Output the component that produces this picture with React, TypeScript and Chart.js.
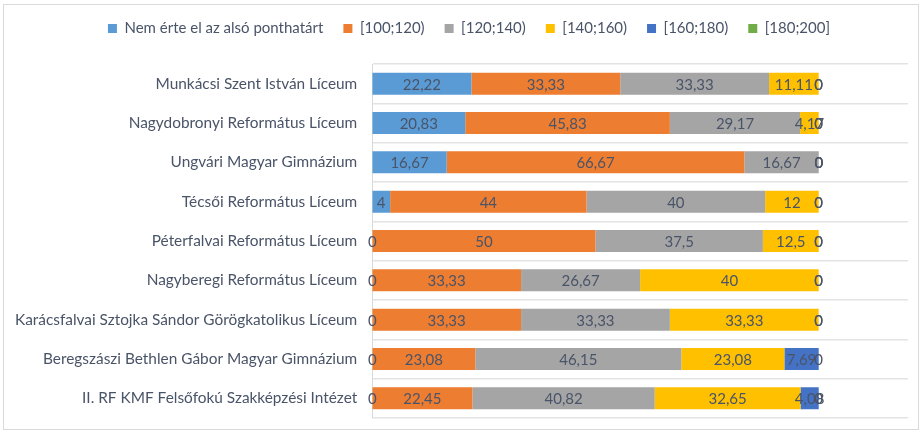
import React, { useEffect, useRef } from "react";
import { Chart, registerables } from "chart.js";

Chart.register(...registerables);

const categories = [
  "Munkácsi Szent István Líceum",
  "Nagydobronyi Református Líceum",
  "Ungvári Magyar Gimnázium",
  "Técsői Református Líceum",
  "Péterfalvai Református Líceum",
  "Nagyberegi Református Líceum",
  "Karácsfalvai Sztojka Sándor Görögkatolikus Líceum",
  "Beregszászi Bethlen Gábor Magyar Gimnázium",
  "II. RF KMF Felsőfokú Szakképzési Intézet",
];

const seriesNames = [
  "Nem érte el az alsó ponthatárt",
  "[100;120)",
  "[120;140)",
  "[140;160)",
  "[160;180)",
  "[180;200]",
];

const belowMin = [22.22, 20.83, 16.67, 4, 0, 0, 0, 0, 0];
const r100_120 = [33.33, 45.83, 66.67, 44, 50, 33.33, 33.33, 23.08, 22.45];
const r120_140 = [33.33, 29.17, 16.67, 40, 37.5, 26.67, 33.33, 46.15, 40.82];
const r140_160 = [11.11, 4.17, 0, 12, 12.5, 40, 33.33, 23.08, 32.65];
const r160_180 = [0, 0, 0, 0, 0, 0, 0, 7.69, 4.08];
const r180_200 = [0, 0, 0, 0, 0, 0, 0, 0, 0];

const seriesColors = ["#5B9BD5", "#ED7D31", "#A5A5A5", "#FFC000", "#4472C4", "#70AD47"];

const FONT = "Lato, 'Open Sans', sans-serif";
const TEXT_COLOR = "#4a5468";

const valueLabels = {
  id: "valueLabels",
  afterDatasetsDraw(chart: any) {
    const ctx = chart.ctx;
    ctx.save();
    ctx.font = `15px ${FONT}`;
    ctx.fillStyle = TEXT_COLOR;
    ctx.textAlign = "center";
    ctx.textBaseline = "middle";
    chart.data.datasets.forEach((ds: any, di: number) => {
      const meta = chart.getDatasetMeta(di);
      meta.data.forEach((el: any, i: number) => {
        const v = ds.data[i];
        if (v === null || v === undefined) return;
        const cx = (el.x + el.base) / 2;
        ctx.fillText(String(v).replace(".", ","), cx, el.y + 1);
      });
    });
    ctx.restore();
  },
};

const legendMargin = {
  id: "legendMargin",
  beforeInit(chart: any) {
    const orig = chart.legend.fit;
    chart.legend.fit = function () {
      orig.bind(chart.legend)();
      this.height += 18;
    };
  },
  afterLayout(chart: any) {
    chart.legend.left += 15;
    chart.legend.right += 15;
  },
};

export default function App() {
  const ref = useRef<HTMLCanvasElement>(null);
  useEffect(() => {
    const data = [belowMin, r100_120, r120_140, r140_160, r160_180, r180_200];
    const chart = new Chart(ref.current!, {
      type: "bar",
      data: {
        labels: categories,
        datasets: data.map((d, i) => ({
          label: seriesNames[i],
          data: d,
          backgroundColor: seriesColors[i],
          borderWidth: 0,
          barPercentage: 0.56,
          categoryPercentage: 1,
        })),
      },
      options: {
        indexAxis: "y",
        animation: false,
        responsive: false,
        maintainAspectRatio: false,
        layout: { padding: { left: 0, right: 14, top: 1, bottom: 13 } },
        plugins: {
          tooltip: { enabled: false },
          legend: {
            position: "top",
            labels: {
              font: { family: FONT, size: 15 },
              color: TEXT_COLOR,
              boxWidth: 9,
              boxHeight: 9,
              padding: 20,
            },
          },
        },
        scales: {
          x: {
            stacked: true,
            min: 0,
            max: 120,
            display: false,
          },
          y: {
            stacked: true,
            afterFit(scale: any) {
              scale.paddingTop = 0;
              scale.paddingBottom = 0;
            },
            grid: {
              offset: true,
              color: "#e3e3e3",
              lineWidth: 1.5,
              drawTicks: false,
            },
            border: { display: true, color: "#d9d9d9", width: 1 },
            ticks: {
              font: { family: FONT, size: 15.4 },
              color: TEXT_COLOR,
              padding: 15,
            },
          },
        },
      },
      plugins: [valueLabels, legendMargin],
    });
    return () => chart.destroy();
  }, []);
  return (
    <div style={{ position: "fixed", left: 0, top: 0, width: 922, height: 431, background: "#fff" }}>
      <div
        style={{
          position: "absolute",
          left: 3,
          top: 4,
          width: 916,
          height: 426,
          border: "1px solid #d9d9d9",
          boxSizing: "border-box",
        }}
      />
      <canvas ref={ref} width={922} height={431} style={{ position: "absolute", left: 0, top: 0 }} />
    </div>
  );
}
